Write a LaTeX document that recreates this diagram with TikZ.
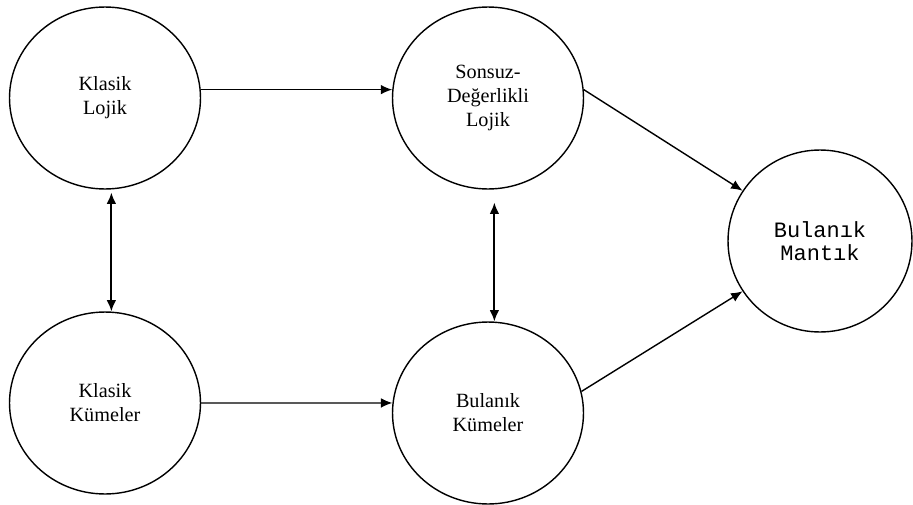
\documentclass[tikz,border=0pt]{standalone}
\usepackage{fontspec}
\setmainfont{Liberation Serif}
\setmonofont{Liberation Mono}
\usetikzlibrary{arrows.meta,shapes.geometric}
\begin{document}
\begin{tikzpicture}[>={Latex[length=6.5pt,width=5.5pt]},x=0.02cm,y=-0.02cm,
    daire/.style={draw,ellipse,line width=.8pt,minimum width=3.82cm,minimum height=3.64cm,
      inner sep=0pt,align=center,font=\fontsize{11.5}{13.6}\selectfont},
    ok/.style={line width=.8pt}]
\useasboundingbox (0,0) rectangle (913,504);
\node[daire](kl) at (105,98){Klasik\\Lojik};
\node[daire](sd) at (488,98){Sonsuz-\\Değerlikli\\Lojik};
\node[daire,minimum width=3.68cm,font=\ttfamily\fontsize{12.5}{12.8}\selectfont](bm) at (820,241){Bulanık\\Mantık};
\node[daire](kk) at (105,403){Klasik\\Kümeler};
\node[daire](bk) at (488,413){Bulanık\\Kümeler};
% baglantilar
\draw[ok,->](kl.5)--(sd.175);
\draw[ok,->](kk.0)--(bk.174);
\draw[ok,->](sd.5)--(bm.147);
\draw[ok,->](bk.13)--(bm.213);
\draw[ok,line width=1.1pt,<->,shorten <=1.7pt](kl.-86)--(kk.86);
\draw[ok,line width=1.1pt,<->,shorten <=7.4pt](sd.-86)--(bk.86);
\end{tikzpicture}
\end{document}
